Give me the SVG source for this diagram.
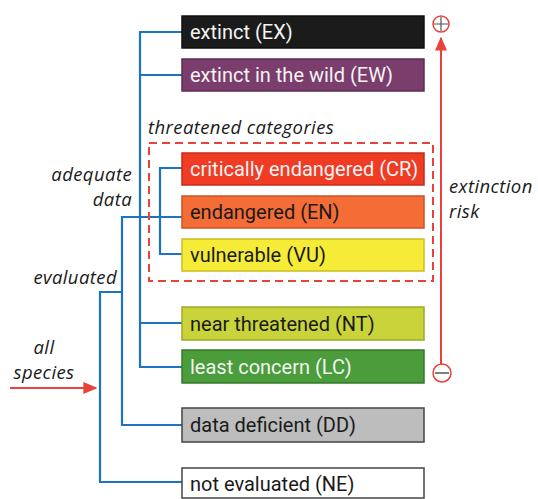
<svg xmlns="http://www.w3.org/2000/svg" width="538" height="499" viewBox="0 0 538 499">
<defs>
<style>
.box{stroke-width:1.5}
.bt{font-family:Roboto,"Liberation Sans",sans-serif;font-size:20px}
.w{fill:#f4f4f4}
.d{fill:#1a1a1a}
.lab{font-family:"Open Sans","Liberation Sans",sans-serif;font-style:italic;font-size:18.5px;letter-spacing:0.4px;fill:#1a1a1a}
.blue{fill:none;stroke:#1c74c0;stroke-width:2.2}
.red{fill:none;stroke:#e8423a;stroke-width:2}
</style>
<marker id="ah" viewBox="0 0 10 10" refX="9" refY="5" markerWidth="7" markerHeight="6" orient="auto-start-reverse" markerUnits="strokeWidth" preserveAspectRatio="none">
<path d="M0,0 L10,5 L0,10 z" fill="#e8423a"/>
</marker>
</defs>
<rect width="538" height="499" fill="#ffffff"/>
<g id="connectors">
<path class="blue" d="M182,32 H140 V367 H182 M140,75 H182 M140,323 H182"/>
<path class="blue" d="M182,168 H160 V254 H182"/>
<path class="blue" d="M182,217 H122 V425 H182"/>
<path class="blue" d="M122,292 H100 V482 H182"/>
<path class="red" d="M10,388 H96" marker-end="url(#ah)"/>
<path class="red" d="M441,364 V38" marker-end="url(#ah)"/>
</g>
<g id="threatened-group">
<rect x="149" y="143" width="284" height="138" fill="none" stroke="#e8423a" stroke-width="2" stroke-dasharray="8,5"/>
<text class="lab" x="148" y="134">threatened categories</text>
</g>
<g id="EX"><rect class="box" x="182" y="16" width="242" height="32" fill="#1b1b1b" stroke="#111"/><text class="bt w" x="190" y="39">extinct (EX)</text></g>
<g id="EW"><rect class="box" x="182" y="59" width="242" height="32" fill="#7a3d6c" stroke="#5e2d53"/><text class="bt w" x="190" y="82">extinct in the wild (EW)</text></g>
<g id="CR"><rect class="box" x="182" y="153" width="242" height="32" fill="#f03b25" stroke="#c52c1a"/><text class="bt w" x="190" y="176">critically endangered (CR)</text></g>
<g id="EN"><rect class="box" x="182" y="196" width="242" height="32" fill="#f46d36" stroke="#cc5123"/><text class="bt d" x="190" y="219">endangered (EN)</text></g>
<g id="VU"><rect class="box" x="182" y="239" width="242" height="32" fill="#f6ec38" stroke="#c9bf22"/><text class="bt d" x="190" y="262">vulnerable (VU)</text></g>
<g id="NT"><rect class="box" x="182" y="307" width="242" height="33" fill="#c8d43a" stroke="#9ea929"/><text class="bt d" x="190" y="331">near threatened (NT)</text></g>
<g id="LC"><rect class="box" x="182" y="350" width="242" height="33" fill="#4a9d3a" stroke="#377a2b"/><text class="bt w" x="190" y="374">least concern (LC)</text></g>
<g id="DD"><rect class="box" x="182" y="408" width="242" height="34" fill="#bdbdbd" stroke="#444"/><text class="bt d" x="190" y="432">data deficient (DD)</text></g>
<g id="NE"><rect class="box" x="182" y="468" width="242" height="30" fill="#ffffff" stroke="#444"/><text class="bt d" x="190" y="491">not evaluated (NE)</text></g>
<g id="plus"><circle cx="441" cy="24" r="8" fill="#fff" stroke="#e8423a" stroke-width="1.5"/><path d="M441,17 V31 M434,24 H448" stroke="#555" stroke-width="1.2"/></g>
<g id="minus"><circle cx="442" cy="373" r="9" fill="#fff" stroke="#e8423a" stroke-width="1.5"/><path d="M435,373 H449" stroke="#555" stroke-width="1.5"/></g>
<g id="labels">
<text class="lab" x="132" y="181" text-anchor="end">adequate</text>
<text class="lab" x="132" y="206" text-anchor="end">data</text>
<text class="lab" x="117" y="284" text-anchor="end">evaluated</text>
<text class="lab" x="44" y="354" text-anchor="middle">all</text>
<text class="lab" x="44" y="379" text-anchor="middle">species</text>
<text class="lab" x="449" y="193">extinction</text>
<text class="lab" x="449" y="218">risk</text>
</g>
</svg>
